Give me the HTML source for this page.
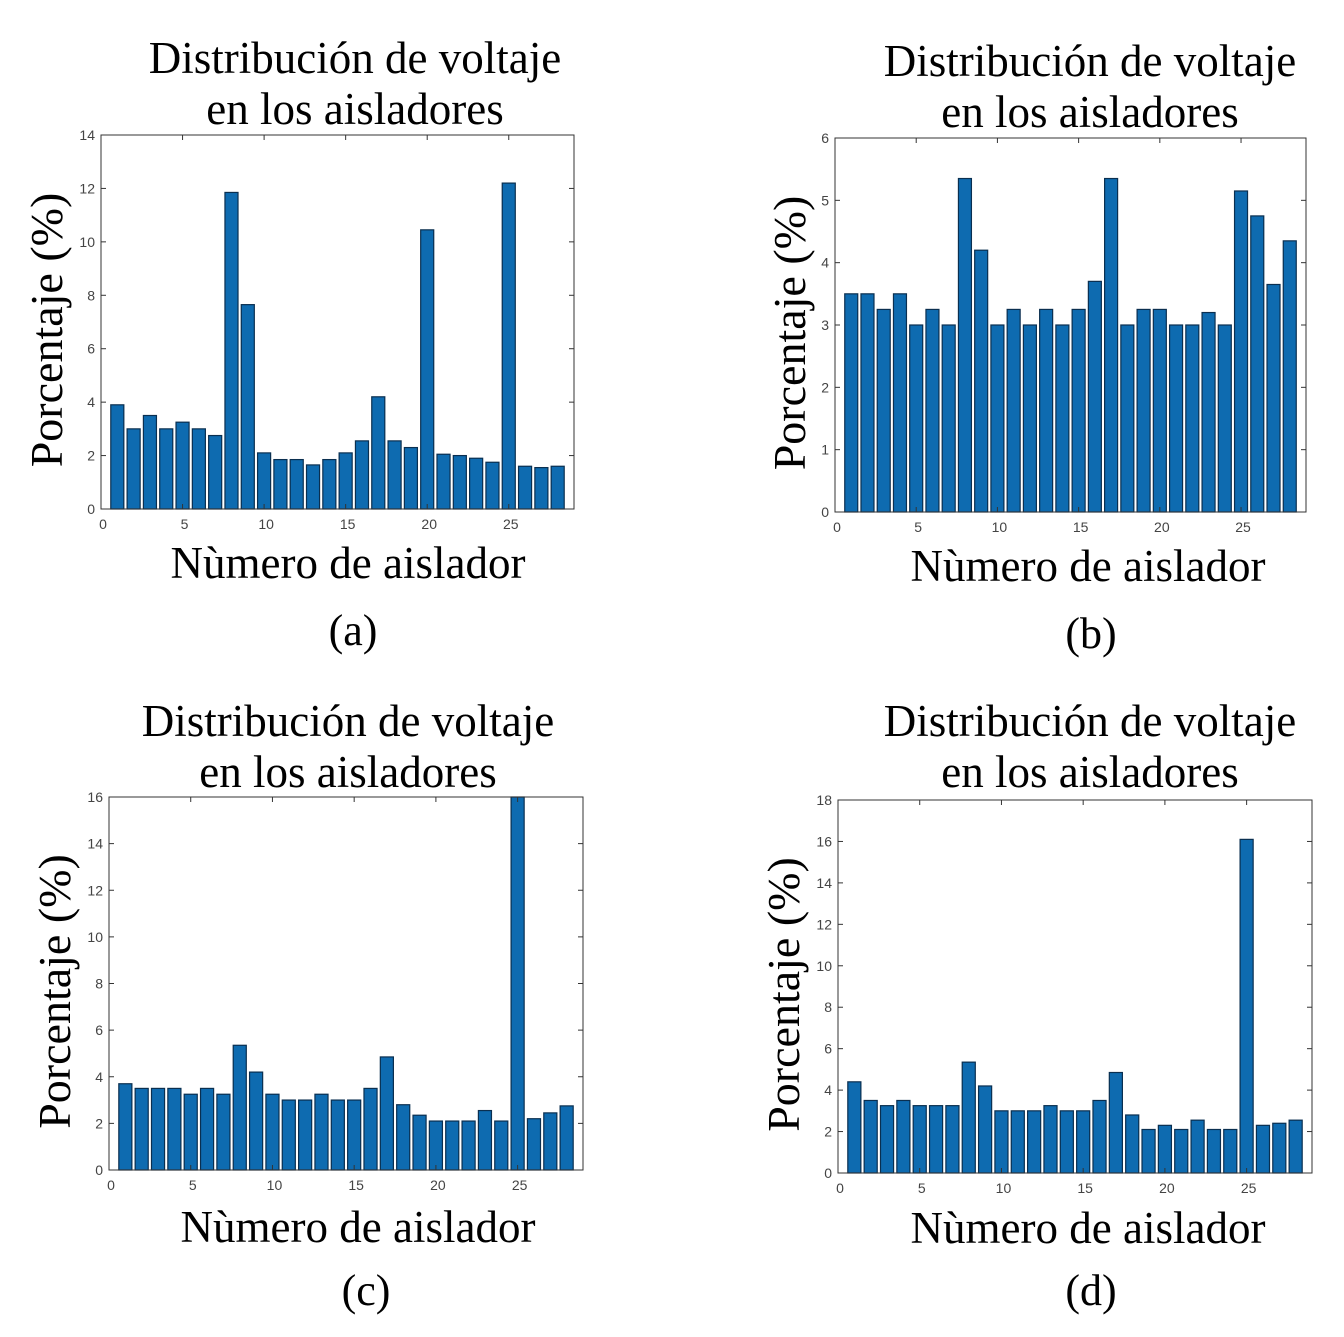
<!DOCTYPE html>
<html><head><meta charset="utf-8"><style>
html,body{margin:0;padding:0;background:#fff;}
svg{display:block}
.t{font-family:"Liberation Serif",serif;fill:#000;}
.tk{font-family:"Liberation Sans",sans-serif;font-size:14px;fill:#444;}
</style></head><body>
<svg id="fig" width="1344" height="1337" xmlns="http://www.w3.org/2000/svg"></svg>
<script>
const categories = [1,2,3,4,5,6,7,8,9,10,11,12,13,14,15,16,17,18,19,20,21,22,23,24,25,26,27,28];
const valuesA = [3.9,3.0,3.5,3.0,3.25,3.0,2.75,11.85,7.65,2.1,1.85,1.85,1.65,1.85,2.1,2.55,4.2,2.55,2.3,10.45,2.05,2.0,1.9,1.75,12.2,1.6,1.55,1.6];
const valuesB = [3.5,3.5,3.25,3.5,3.0,3.25,3.0,5.35,4.2,3.0,3.25,3.0,3.25,3.0,3.25,3.7,5.35,3.0,3.25,3.25,3.0,3.0,3.2,3.0,5.15,4.75,3.65,4.35];
const valuesC = [3.7,3.5,3.5,3.5,3.25,3.5,3.25,5.35,4.2,3.25,3.0,3.0,3.25,3.0,3.0,3.5,4.85,2.8,2.35,2.1,2.1,2.1,2.55,2.1,16,2.2,2.45,2.75];
const valuesD = [4.4,3.5,3.25,3.5,3.25,3.25,3.25,5.35,4.2,3.0,3.0,3.0,3.25,3.0,3.0,3.5,4.85,2.8,2.1,2.3,2.1,2.55,2.1,2.1,16.1,2.3,2.4,2.55];
const xTicks = [0,5,10,15,20,25];
const yTicksA = [0,2,4,6,8,10,12,14];
const yTicksB = [0,1,2,3,4,5,6];
const yTicksC = [0,2,4,6,8,10,12,14,16];
const yTicksD = [0,2,4,6,8,10,12,14,16,18];

const NS = "http://www.w3.org/2000/svg";
const svg = document.getElementById('fig');
function mk(tag, attrs, parent){const e=document.createElementNS(NS,tag);for(const k in attrs)e.setAttribute(k,attrs[k]);(parent||svg).appendChild(e);return e;}

function panel(id, vals, yt, L, R, T, B, tcx, tcy, ylx, xlx, xly, capx, capY, cap){
  const g = mk('g',{});
  
  
  const ymax = yt[yt.length-1];
  const xs = v => L + (v/29)*(R-L);
  const ys = v => B - (v/ymax)*(B-T);
  const t1 = mk('text',{x:tcx,y:tcy,'text-anchor':'middle','font-size':45,class:'t'},g); t1.textContent='Distribución de voltaje';
   
  const t2 = mk('text',{x:tcx,y:tcy+51,'text-anchor':'middle','font-size':45,class:'t'},g); t2.textContent='en los aisladores';
   
  vals.forEach((v,i)=>{
    const c = categories[i];
    const r = mk('rect',{x:xs(c-0.4),y:ys(v),width:xs(0.8)-xs(0),height:B-ys(v),fill:'#0e6bb0',stroke:'#0a2f50','stroke-width':1.2},g);
    
    
  });
  const box = mk('rect',{x:L,y:T,width:R-L,height:B-T,fill:'none',stroke:'#333','stroke-width':1},g);
   
  xTicks.forEach(v=>{
    const x=xs(v);
    mk('line',{x1:x,x2:x,y1:B,y2:B-5,stroke:'#333'},g);
    mk('line',{x1:x,x2:x,y1:T,y2:T+5,stroke:'#333'},g);
    const tx=mk('text',{x:x+2,y:B+20,'text-anchor':'middle',class:'tk'},g); tx.textContent=v;
     
  });
  yt.forEach(v=>{
    const y=ys(v);
    mk('line',{x1:L,x2:L+5,y1:y,y2:y,stroke:'#333'},g);
    mk('line',{x1:R,x2:R-5,y1:y,y2:y,stroke:'#333'},g);
    const ty=mk('text',{x:L-6,y:y+5,'text-anchor':'end',class:'tk'},g); ty.textContent=v;
     
  });
  const yl=mk('text',{x:0,y:0,'text-anchor':'middle','font-size':46,class:'t',transform:`translate(${ylx},${(T+B)/2+8}) rotate(-90)`},g);
  yl.textContent='Porcentaje (%)';
   
  const xl=mk('text',{x:xlx,y:xly,'text-anchor':'middle','font-size':45,class:'t'},g);
  xl.textContent='Nùmero de aislador';
   
  const cp=mk('text',{x:capx,y:capY,'text-anchor':'middle','font-size':44,class:'t'},g);
  cp.textContent=cap;
   
}
panel('a', valuesA, yTicksA, 101, 574, 135, 509, 355, 73, 62, 348, 578, 353, 645, '(a)');
panel('b', valuesB, yTicksB, 835, 1306, 138, 512, 1090, 76, 805, 1088, 581, 1091, 648, '(b)');
panel('c', valuesC, yTicksC, 109, 583, 797, 1170, 348, 736, 70, 358, 1242, 366, 1305, '(c)');
panel('d', valuesD, yTicksD, 838, 1312, 800, 1173, 1090, 736, 799, 1088, 1243, 1091, 1305, '(d)');
</script>
</body></html>
